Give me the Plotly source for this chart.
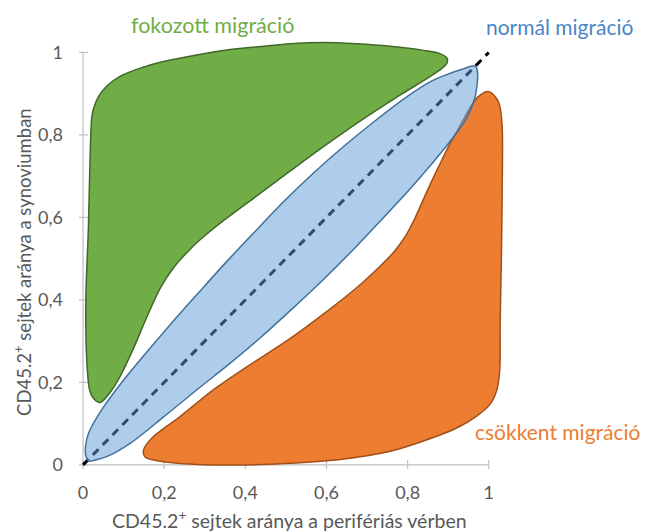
import plotly.graph_objects as go

# ---- data (data coordinates) ----
tick_vals = [0, 0.2, 0.4, 0.6, 0.8, 1]
tick_text = ["0", "0,2", "0,4", "0,6", "0,8", "1"]

diag_x = [0, 1]
diag_y = [0, 1]

green_x = [0.042, 0.025, 0.016, 0.009, 0.007, 0.013, 0.017, 0.021, 0.025, 0.038, 0.058, 0.091,
           0.141, 0.198, 0.280, 0.363, 0.445, 0.510, 0.593, 0.675, 0.757, 0.839, 0.880, 0.897,
           0.897, 0.885, 0.856, 0.782, 0.716, 0.654, 0.589, 0.510, 0.428, 0.346, 0.297, 0.264,
           0.223, 0.190, 0.157, 0.124, 0.091, 0.067, 0.042]
green_y = [0.151, 0.162, 0.182, 0.256, 0.408, 0.570, 0.732, 0.837, 0.861, 0.893, 0.918, 0.942,
           0.962, 0.978, 0.994, 1.007, 1.015, 1.021, 1.024, 1.021, 1.015, 1.005, 0.997, 0.986,
           0.974, 0.962, 0.942, 0.897, 0.855, 0.814, 0.769, 0.712, 0.652, 0.592, 0.553, 0.523,
           0.478, 0.428, 0.358, 0.282, 0.214, 0.176, 0.151]

blue_x = [0.967, 0.936, 0.893, 0.854, 0.802, 0.721, 0.642, 0.566, 0.494, 0.424, 0.355, 0.287,
          0.220, 0.154, 0.090, 0.045, 0.014, 0.006, 0.007, 0.015, 0.030, 0.058, 0.117, 0.197,
          0.283, 0.362, 0.439, 0.514, 0.595, 0.673, 0.742, 0.804, 0.857, 0.902, 0.944, 0.965,
          0.972, 0.972, 0.967]
blue_y = [0.967, 0.960, 0.945, 0.928, 0.895, 0.835, 0.772, 0.706, 0.638, 0.566, 0.494, 0.420,
          0.346, 0.270, 0.193, 0.132, 0.078, 0.044, 0.021, 0.009, 0.012, 0.020, 0.053, 0.115,
          0.184, 0.246, 0.310, 0.377, 0.452, 0.529, 0.601, 0.667, 0.727, 0.781, 0.838, 0.887,
          0.930, 0.955, 0.967]

orange_x = [1.000, 1.018, 1.027, 1.033, 1.033, 1.031, 1.028, 1.027, 1.020, 1.004, 0.971, 0.922,
            0.839, 0.757, 0.634, 0.510, 0.404, 0.280, 0.182, 0.153, 0.149, 0.173, 0.239, 0.321,
            0.404, 0.510, 0.593, 0.675, 0.725, 0.765, 0.795, 0.818, 0.838, 0.857, 0.875, 0.905,
            0.932, 0.954, 0.974, 1.000]
orange_y = [0.905, 0.890, 0.871, 0.821, 0.659, 0.497, 0.335, 0.230, 0.182, 0.148, 0.119, 0.090,
            0.058, 0.033, 0.013, 0.004, 0.000, 0.001, 0.010, 0.019, 0.036, 0.068, 0.117, 0.182,
            0.238, 0.306, 0.366, 0.430, 0.475, 0.515, 0.555, 0.598, 0.642, 0.683, 0.720, 0.780,
            0.827, 0.866, 0.893, 0.905]

labels = ["fokozott migráció", "normál migráció", "csökkent migráció"]
x_title = "CD45.2<sup>+</sup> sejtek aránya a perifériás vérben"
y_title = "CD45.2<sup>+</sup> sejtek aránya a synoviumban"

FONT = "Lato"
GRAY = "#595959"
AXIS = "#BFBFBF"

fig = go.Figure()

fig.add_trace(go.Scatter(x=diag_x, y=diag_y, mode="lines",
                         line=dict(color="black", width=3, dash="8px,6px"),
                         hoverinfo="skip", showlegend=False))

fig.add_trace(go.Scatter(x=green_x, y=green_y, mode="lines", fill="toself",
                         fillcolor="#70AD47",
                         line=dict(color="#41682A", width=1.5, shape="spline", smoothing=0.8),
                         hoverinfo="skip", showlegend=False))

fig.add_trace(go.Scatter(x=orange_x, y=orange_y, mode="lines", fill="toself",
                         fillcolor="#ED7D31",
                         line=dict(color="#A0501A", width=1.5, shape="spline", smoothing=0.9),
                         hoverinfo="skip", showlegend=False))

fig.add_trace(go.Scatter(x=blue_x, y=blue_y, mode="lines", fill="toself",
                         fillcolor="rgba(91,155,213,0.5)",
                         line=dict(color="#41719C", width=1.5, shape="spline", smoothing=1.0),
                         hoverinfo="skip", showlegend=False))

# axis lines and crossing ticks
shapes = [
    dict(type="line", xref="x", yref="y", x0=0, x1=1, y0=0, y1=0,
         line=dict(color=AXIS, width=1.2), layer="below"),
    dict(type="line", xref="x", yref="y", x0=0, x1=0, y0=0, y1=1,
         line=dict(color=AXIS, width=1.2), layer="below"),
]
for v in tick_vals:
    shapes.append(dict(type="line", xref="x", yref="y", x0=v, x1=v,
                       ysizemode="pixel", yanchor=0, y0=-6, y1=5,
                       line=dict(color=AXIS, width=1.2), layer="below"))
    shapes.append(dict(type="line", yref="y", xref="x", y0=v, y1=v,
                       xsizemode="pixel", xanchor=0, x0=-6, x1=5,
                       line=dict(color=AXIS, width=1.2), layer="below"))

annotations = [
    dict(text=labels[0], x=0.3124, y=1.0306, xref="paper", yref="paper", showarrow=False,
         font=dict(family=FONT, size=21.5, color="#70AD47"), xanchor="center", yanchor="middle"),
    dict(text=labels[1], x=1.1295, y=1.0258, xref="paper", yref="paper", showarrow=False,
         font=dict(family=FONT, size=21, color="#4A86C5"), xanchor="center", yanchor="middle"),
    dict(text=labels[2], x=1.1248, y=0.0861, xref="paper", yref="paper", showarrow=False,
         font=dict(family=FONT, size=21, color="#ED7D31"), xanchor="center", yanchor="middle"),
    dict(text=x_title, x=0.4951, y=-0.1175, xref="paper", yref="paper", showarrow=False,
         font=dict(family=FONT, size=19.5, color=GRAY), xanchor="center", yanchor="middle"),
    dict(text=y_title, x=-0.1310, y=0.4810, xref="paper", yref="paper", showarrow=False,
         textangle=-90,
         font=dict(family=FONT, size=18.5, color=GRAY), xanchor="center", yanchor="middle"),
]

fig.update_layout(
    width=640, height=524,
    margin=dict(l=71, r=143, t=30, b=63),
    paper_bgcolor="white", plot_bgcolor="white",
    shapes=shapes, annotations=annotations,
    xaxis=dict(range=[-0.01, 1.04], showgrid=False, zeroline=False, showline=False,
               tickvals=tick_vals, ticktext=tick_text, ticks="",
               tickfont=dict(family=FONT, size=18, color=GRAY), ticklabelstandoff=11),
    yaxis=dict(range=[-0.01, 1.035], showgrid=False, zeroline=False, showline=False,
               tickvals=tick_vals, ticktext=tick_text, ticks="",
               tickfont=dict(family=FONT, size=18, color=GRAY), ticklabelstandoff=15),
    showlegend=False,
)

fig.write_html("out.html")
